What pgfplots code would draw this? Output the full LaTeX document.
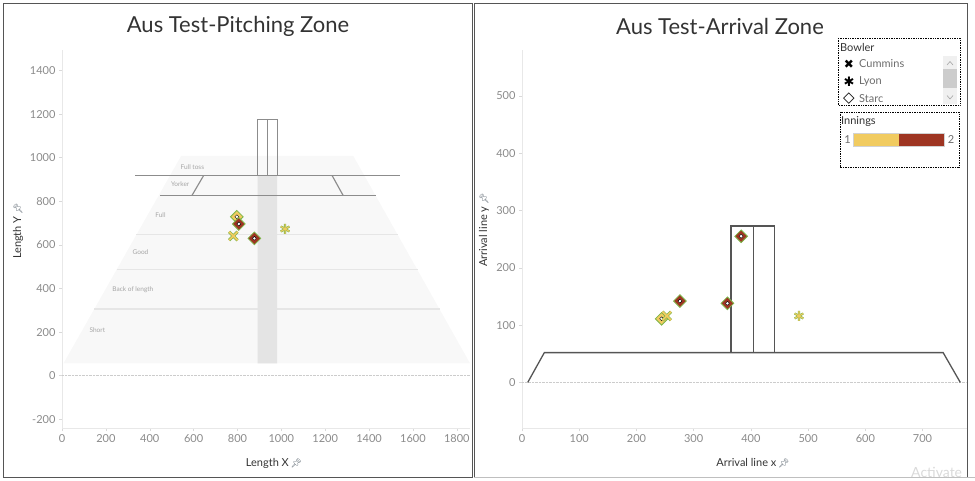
\documentclass[border=0pt]{standalone}
\usepackage{pgfplots}
\pgfplotsset{compat=1.18}
\usepackage{fontspec}
\setmainfont{Lato}
\newfontfamily\emojifont{Noto Emoji}
\newfontfamily\symfont{DejaVu Sans}
\definecolor{inn1}{HTML}{F1CB60}
\definecolor{inn2}{HTML}{9E3522}
\definecolor{halo}{HTML}{7DB64A}
\definecolor{ticktext}{HTML}{8A8A8A}
\definecolor{dark}{HTML}{333333}
\definecolor{fieldfill}{HTML}{F8F8F8}
\definecolor{zoneline}{HTML}{E6E6E6}
\definecolor{band}{HTML}{E4E4E4}
\definecolor{crease}{HTML}{8C8C8C}
\definecolor{stump}{HTML}{555555}
\definecolor{pin}{HTML}{5B6670}
\pgfplotsset{
  tabstyle/.style={
    scale only axis,
    axis x line*=bottom, axis y line*=left,
    axis line style={draw=gray!18,-},
    tick style={draw=gray!30, thin},
    tick align=outside,
    major tick length=3pt,
    tick label style={font=\fontsize{11}{13}\selectfont, text=ticktext},
    /pgf/number format/assume math mode=true,
    /pgf/number format/set thousands separator={},
    scaled ticks=false,
    clip=true,
  },
  dia/.style={only marks, mark=square*, mark size=4.5pt,
    mark options={rotate=45, fill=#1, draw=halo, line width=0.8pt}},
  diacenter/.style={only marks, mark=square*, mark size=1.4pt,
    mark options={rotate=45, fill=white, draw=none}},
  crossh/.style={only marks, mark=x, mark size=6pt, mark options={draw=halo, line width=3pt}},
  crossm/.style={only marks, mark=x, mark size=6pt, mark options={draw=inn1, line width=1.7pt}},
  asth/.style={only marks, mark=asterisk, mark size=5pt, mark options={draw=halo, line width=2.2pt}},
  astm/.style={only marks, mark=asterisk, mark size=5pt, mark options={draw=inn1, line width=1.1pt}},
}
\begin{document}
\begin{tikzpicture}
\useasboundingbox (0pt,0pt) rectangle (975pt,-481pt);
% ---------------- Left: pitching zone ----------------
\begin{axis}[tabstyle, at={(62pt,-428pt)}, anchor=south west,
  width=408pt, height=378pt,
  xmin=0, xmax=1860, ymin=-240, ymax=1494,
  xtick={0,200,...,1800}, ytick={-200,0,...,1400}]
  % pitch trapezoid
  \addplot[fill=fieldfill, draw=none] coordinates {(7,57) (543,1008) (1328,1008) (1860,57) (7,57)};
  % zone boundaries
  \addplot[zoneline, line width=1.4pt] coordinates {(145,305) (1725,305)};
  \addplot[zoneline, line width=1.4pt] coordinates {(249,486) (1622,486)};
  \addplot[zoneline, line width=1.4pt] coordinates {(339,647) (1531,647)};
  % stump line band
  \addplot[fill=band, draw=none] coordinates {(892,57) (892,917) (981,917) (981,57) (892,57)};
  % zero line
  \addplot[gray!40, densely dotted] coordinates {(0,0) (1860,0)};
  % creases
  \addplot[crease, line width=1.15pt] coordinates {(334,917) (1541,917)};
  \addplot[crease, line width=1.15pt] coordinates {(448,826) (1433,826)};
  \addplot[crease, line width=1.15pt] coordinates {(645,917) (592,826)};
  \addplot[crease, line width=1.15pt] coordinates {(1232,917) (1282,826)};
  % stumps
  \addplot[crease, line width=1.15pt] coordinates {(892,917) (892,1176) (981,1176) (981,917)};
  \addplot[crease, line width=1.15pt] coordinates {(936,917) (936,1176)};
  % zone labels
  \begin{scope}[every node/.style={anchor=west, font=\fontsize{6.5}{7}\selectfont, text=gray!70, inner sep=0pt}]
    \node at (axis cs:540,958) {Full toss};
    \node at (axis cs:496,878) {Yorker};
    \node at (axis cs:425,736) {Full};
    \node at (axis cs:321,566) {Good};
    \node at (axis cs:229,393) {Back of length};
    \node at (axis cs:125,209) {Short};
  \end{scope}
  % innings 1 (yellow)
  \addplot[dia=inn1] coordinates {(797,729)};
  \addplot[diacenter] coordinates {(797,729)};
  \addplot[crossh] coordinates {(781,641)};
  \addplot[crossm] coordinates {(781,641)};
  \addplot[asth] coordinates {(1017,673)};
  \addplot[astm] coordinates {(1017,673)};
  % innings 2 (red)
  \addplot[dia=inn2] coordinates {(806,696) (877,630)};
  \addplot[diacenter] coordinates {(806,696) (877,630)};
\end{axis}
% ---------------- Right: arrival zone ----------------
\begin{axis}[tabstyle, at={(522pt,-428.3pt)}, anchor=south west,
  width=444.6pt, height=378.3pt,
  xmin=0, xmax=777, ymin=-80, ymax=580,
  xtick={0,100,...,700}, ytick={0,100,...,500}]
  \addplot[gray!40, densely dotted] coordinates {(0,0) (777,0)};
  \addplot[stump, line width=1.3pt] coordinates {(10,0) (39,52) (736,52) (766,0)};
  \addplot[stump, line width=1.3pt] coordinates {(365,52) (365,273) (441,273) (441,52)};
  \addplot[stump, line width=1.3pt] coordinates {(404,52) (404,273)};
  % innings 1 (yellow)
  \addplot[dia=inn1] coordinates {(244,111)};
  \addplot[diacenter] coordinates {(244,111)};
  \addplot[crossh] coordinates {(253,116)};
  \addplot[crossm] coordinates {(253,116)};
  \addplot[asth] coordinates {(484,116)};
  \addplot[astm] coordinates {(484,116)};
  % innings 2 (red)
  \addplot[dia=inn2] coordinates {(276,142) (359,138) (383,255)};
  \addplot[diacenter] coordinates {(276,142) (359,138) (383,255)};
\end{axis}
% ---------------- Overlay: frames, titles, labels, legend ----------------
\begin{scope}[x=1pt, y=-1pt]
  \draw[stump, line width=1pt] (3,4) rectangle (472,477);
  \draw[stump, line width=1pt] (474,4) rectangle (967,477);
  \draw[gray!50, line width=0.6pt] (474,477) -- (975,477);
  \node[font=\fontsize{22}{26}\selectfont, text=dark] at (238,26) {Aus Test-Pitching Zone};
  \node[font=\fontsize{22}{26}\selectfont, text=dark] at (720,26) {Aus Test-Arrival Zone};
  \node[font=\fontsize{11}{13}\selectfont, text=dark] at (274,463) {Length X\,\textcolor{pin}{\emojifont\fontsize{9}{10}\selectfont 📌}};
  \node[font=\fontsize{11}{13}\selectfont, text=dark] at (753,463) {Arrival line x\,\textcolor{pin}{\emojifont\fontsize{9}{10}\selectfont 📌}};
  \node[font=\fontsize{11}{13}\selectfont, text=dark, rotate=90] at (18,231) {Length Y\,\textcolor{pin}{\emojifont\fontsize{9}{10}\selectfont 📌}};
  \node[font=\fontsize{11}{13}\selectfont, text=dark, rotate=90] at (484,230) {Arrival line y\,\textcolor{pin}{\emojifont\fontsize{9}{10}\selectfont 📌}};
  % legend: Bowler
  \draw[black, densely dotted, line width=0.7pt] (838,38) rectangle (960,105);
  \node[anchor=west, inner sep=0pt, font=\fontsize{11}{12}\selectfont, text=dark] at (840,47) {Bowler};
  \fill[gray!12] (943,56) rectangle (957,104);
  \fill[gray!40] (943,69) rectangle (957,88);
  \draw[gray!70, line width=0.6pt] (947,65) -- (950,61.5) -- (953,65);
  \draw[gray!70, line width=0.6pt] (947,95.5) -- (950,99) -- (953,95.5);
  \node[anchor=center, inner sep=0pt, font=\symfont\fontsize{12}{12}\selectfont] at (849,64) {✖};
  \node[anchor=center, inner sep=0pt, font=\symfont\fontsize{13}{12}\selectfont] at (849,82) {✱};
  \node[anchor=center, inner sep=0pt, font=\symfont\fontsize{15}{12}\selectfont] at (849,99) {◇};
  \node[anchor=west, inner sep=0pt, font=\fontsize{11}{12}\selectfont, text=gray!85!black] at (859,64) {Cummins};
  \node[anchor=west, inner sep=0pt, font=\fontsize{11}{12}\selectfont, text=gray!85!black] at (859,82) {Lyon};
  \node[anchor=west, inner sep=0pt, font=\fontsize{11}{12}\selectfont, text=gray!85!black] at (859,99) {Starc};
  % legend: Innings
  \draw[black, densely dotted, line width=0.7pt] (840,112) rectangle (959,167);
  \node[anchor=west, inner sep=0pt, font=\fontsize{11}{12}\selectfont, text=dark] at (841,121) {Innings};
  \node[inner sep=0pt, font=\fontsize{11}{12}\selectfont, text=gray!85!black] at (847.5,140) {1};
  \node[inner sep=0pt, font=\fontsize{11}{12}\selectfont, text=gray!85!black] at (951,140) {2};
  \fill[inn1] (853.5,133) rectangle (899,146.5);
  \fill[inn2] (899,133) rectangle (944,146.5);
  \draw[gray!35, line width=0.5pt] (853.5,133) rectangle (944,146.5);
  % watermark
  \node[anchor=west, inner sep=0pt, font=\fontsize{14}{16}\selectfont, text=gray!30] at (911,472) {Activate};
\end{scope}
\end{tikzpicture}
\end{document}
